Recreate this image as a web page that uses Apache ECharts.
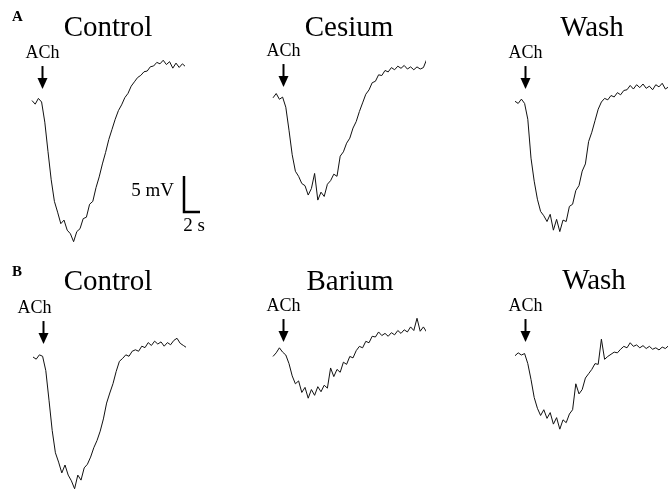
<!DOCTYPE html>
<html>
<head>
<meta charset="utf-8">
<script src="https://cdn.jsdelivr.net/npm/echarts@6/dist/echarts.min.js"></script>
<style>
  html, body { margin: 0; padding: 0; background: #fff; }
  #main { width: 670px; height: 489px; }
</style>
</head>
<body>
<div id="main"></div>
<script>
// sample times (s) shared by all six recordings
var sampleTimes = [0, 0.4, 0.8, 1.2, 1.6, 2.0, 2.4, 2.8, 3.2, 3.6,
  4.0, 4.4, 4.8, 5.2, 5.6, 6.0, 6.4, 6.8, 7.2, 7.6,
  8.0, 8.4, 8.8, 9.2, 9.6, 10.0, 10.4, 10.8, 11.2, 11.6,
  12.0, 12.4, 12.8, 13.2, 13.6, 14.0, 14.4, 14.8, 15.2, 15.6,
  16.0, 16.4, 16.8, 17.2, 17.6, 18.0, 18.4, 18.8, 19.2, 19.6];

// membrane potential (mV, relative to rest)
var controlA = [0.2, -0.3, 0.5, 0.0, -2.8, -6.9, -10.8, -13.8, -15.3, -16.9,
  -16.4, -17.8, -18.3, -19.4, -18.0, -17.6, -16.2, -16.0, -14.2, -13.8,
  -11.9, -10.4, -8.6, -7.0, -5.2, -3.8, -2.4, -1.2, -0.4, 0.6,
  1.2, 2.2, 2.8, 3.4, 3.7, 4.2, 4.3, 4.9, 5.0, 5.5,
  5.3, 5.8, 5.2, 5.6, 4.7, 5.4, 4.8, 5.3, 4.9, 5.0];
var cesium = [0.3, 0.9, 0.1, 0.4, -1.0, -4.2, -7.6, -9.9, -10.6, -11.6,
  -11.9, -13.2, -12.3, -10.2, -13.9, -12.8, -13.4, -11.7, -11.2, -10.3,
  -10.6, -7.8, -7.2, -6.0, -5.3, -3.9, -3.0, -1.6, -0.4, 0.8,
  1.4, 2.4, 2.6, 3.5, 3.4, 4.1, 3.9, 4.5, 4.2, 4.7,
  4.4, 4.8, 4.3, 4.6, 4.2, 4.6, 4.3, 4.5, 5.6, 3.8];
var washA = [0.1, -0.2, 0.4, -0.2, -2.4, -7.8, -11.0, -13.5, -15.2, -15.8,
  -16.6, -15.6, -17.8, -16.3, -18.0, -16.4, -16.6, -14.5, -14.2, -12.3,
  -11.6, -9.6, -8.6, -5.5, -4.2, -2.6, -1.0, 0.0, 0.5, 0.3,
  0.9, 0.7, 1.3, 1.0, 1.6, 1.7, 2.3, 1.8, 2.4, 2.0,
  2.5, 1.9, 2.2, 1.7, 2.4, 2.1, 2.6, 1.8, 2.1, 1.6];
var controlB = [0.0, -0.3, 0.3, 0.1, -1.9, -6.0, -10.2, -13.3, -14.6, -16.1,
  -15.0, -16.4, -17.2, -18.3, -16.4, -17.1, -15.4, -14.9, -13.9, -12.6,
  -11.6, -10.3, -8.6, -6.4, -5.0, -3.7, -2.0, -0.6, -0.2, 0.3,
  0.1, 0.8, 1.0, 0.8, 1.5, 1.3, 2.0, 1.6, 2.2, 1.8,
  2.1, 1.5, 2.0, 1.7, 2.3, 2.6, 1.9, 1.6, 1.3];
var barium = [-0.2, 0.3, 1.0, 0.4, 0.0, -1.2, -2.9, -4.0, -3.6, -5.2,
  -4.5, -6.0, -4.8, -5.6, -4.4, -5.1, -4.2, -4.6, -1.8, -3.0,
  -2.0, -2.4, -1.0, -1.3, -0.2, -0.4, 0.6, 1.2, 1.0, 1.9,
  1.7, 2.6, 2.5, 3.2, 2.7, 3.0, 2.6, 3.1, 2.8, 3.4,
  3.0, 3.5, 3.2, 3.9, 3.4, 5.1, 3.3, 3.9, 3.2, 2.5];
var washB = [-0.1, 0.3, 0.0, 0.2, -1.2, -3.4, -5.9, -7.4, -8.4, -7.6,
  -8.8, -8.0, -9.6, -8.7, -10.3, -9.0, -9.4, -8.2, -7.6, -4.0,
  -5.4, -4.8, -3.2, -2.6, -2.0, -1.2, -1.3, 2.2, -0.6, -0.2,
  0.1, 0.4, 0.3, 0.8, 1.2, 1.0, 1.7, 1.2, 1.4, 1.0,
  1.3, 0.9, 1.2, 0.8, 1.0, 0.7, 1.1, 0.9, 1.3, 1.0];

var panelNames = ['Control', 'Cesium', 'Wash', 'Control', 'Barium', 'Wash'];
var panelTraces = [controlA, cesium, washA, controlB, barium, washB];
var achTime = 1.2;     // s, ACh application
var scaleBarMv = 5;
var scaleBarSec = 2;

// layout: 8 px per s, 7.2 px per mV
var pxPerSec = 8, pxPerMv = 7.2;
var xMax = 19, yMin = -16, yMax = 6;
var panelLeft = [32, 273, 515, 33, 273, 515];
var panelBase = [102, 100, 102, 357, 355, 355];   // pixel row of resting potential
var titleX = [108, 349, 592, 108, 350, 594];
var titleY = [28, 28, 28, 282, 282, 281];
var achLabelShift = [0, 0, 0, -9, 0, 0];

var chart = echarts.init(document.getElementById('main'), null, { renderer: 'canvas' });

var grids = [], xAxes = [], yAxes = [], series = [];
function addGrid(left, baseRow) {
  grids.push({
    left: left,
    top: baseRow - yMax * pxPerMv,
    width: xMax * pxPerSec,
    height: (yMax - yMin) * pxPerMv,
    outerBoundsMode: 'none'
  });
  var i = grids.length - 1;
  xAxes.push({ type: 'value', gridIndex: i, min: 0, max: xMax, show: false });
  yAxes.push({ type: 'value', gridIndex: i, min: yMin, max: yMax, show: false });
  return i;
}

panelTraces.forEach(function (vals, p) {
  var g = addGrid(panelLeft[p], panelBase[p]);
  series.push({
    type: 'line',
    xAxisIndex: g,
    yAxisIndex: g,
    data: vals.map(function (v, k) { return [sampleTimes[k], v]; }),
    showSymbol: false,
    clip: false,
    lineStyle: { color: '#111', width: 1 },
    animation: false
  });
});

// scale bar, drawn with the same scale as the traces
var sb = addGrid(184, 212);
series.push({
  type: 'line',
  xAxisIndex: sb,
  yAxisIndex: sb,
  data: [[0, scaleBarMv], [0, 0], [scaleBarSec, 0]],
  showSymbol: false,
  clip: false,
  lineStyle: { color: '#000', width: 2.5, cap: 'butt', join: 'miter' },
  animation: false
});

chart.setOption({
  backgroundColor: '#fff',
  animation: false,
  grid: grids,
  xAxis: xAxes,
  yAxis: yAxes,
  series: series
});

var serif = '"Liberation Serif", "Times New Roman", serif';
function txt(x, y, s, size, weight, align) {
  return {
    type: 'text', x: x, y: y, silent: true,
    style: {
      text: s, fill: '#000',
      font: (weight || 'normal') + ' ' + size + 'px ' + serif,
      textAlign: align || 'center', textVerticalAlign: 'middle',
      align: align || 'center', verticalAlign: 'middle'
    }
  };
}

var graphics = [];
graphics.push(txt(12, 17, 'A', 15, 'bold', 'left'));
graphics.push(txt(12, 272, 'B', 15, 'bold', 'left'));
panelNames.forEach(function (name, p) {
  graphics.push(txt(titleX[p], titleY[p], name, 29));
  var tip = chart.convertToPixel({ gridIndex: p }, [achTime, 1.8]);
  var ax = Math.round(tip[0]) + 0.5, ay = tip[1];
  graphics.push({
    type: 'line', silent: true,
    shape: { x1: ax, y1: ay - 23, x2: ax, y2: ay - 8 },
    style: { stroke: '#000', lineWidth: 2 }
  });
  graphics.push({
    type: 'polygon', silent: true,
    shape: { points: [[ax - 5, ay - 11], [ax + 5, ay - 11], [ax, ay]] },
    style: { fill: '#000' }
  });
  graphics.push(txt(ax + achLabelShift[p], ay - 36, 'ACh', 18));
});
graphics.push(txt(174, 191, '5 mV', 19, 'normal', 'right'));
graphics.push(txt(194, 226, '2 s', 19));

chart.setOption({ graphic: graphics });
</script>
</body>
</html>
